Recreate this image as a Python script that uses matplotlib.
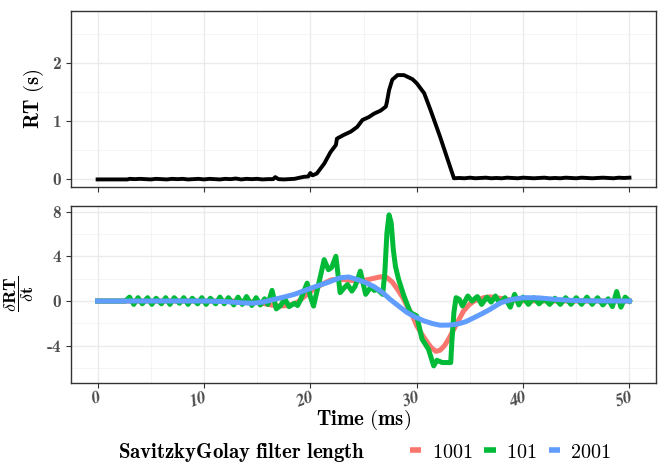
import matplotlib
matplotlib.use("Agg")
import matplotlib.pyplot as plt
from matplotlib.lines import Line2D

plt.rcParams["mathtext.fontset"] = "cm"
plt.rcParams["axes.unicode_minus"] = False

# reaction time trace
rt_time = [0, 1.0, 2.0, 2.8, 3.0, 3.5, 4.0, 4.5, 5.0, 5.5, 6.0, 6.5, 7.0, 7.5, 8.0, 8.5,
           9.0, 9.5, 10.0, 10.5, 11.0, 11.5, 12.0, 12.5, 13.0, 13.5, 14.0, 14.5, 15.0,
           15.5, 16.0, 16.5, 16.7, 17.0, 17.5, 18.0, 18.5, 19.0, 19.4, 19.8, 20.0, 20.2,
           20.6, 21.3, 21.9, 22.4, 22.5, 23.1, 23.8, 24.4, 24.9, 25.5, 26.0, 26.6, 27.1,
           27.2, 27.4, 27.7, 28.2, 28.8, 29.6, 30.0, 30.7, 31.3, 32.2, 33.5, 34.0, 34.5,
           35.0, 35.5, 36.0, 36.5, 37.0, 37.5, 38.0, 38.5, 39.0, 39.5, 40.0, 40.5, 41.0,
           41.5, 42.0, 42.5, 43.0, 43.5, 44.0, 44.5, 45.0, 45.5, 46.0, 46.5, 47.0, 47.5,
           48.0, 48.5, 49.0, 49.5, 50.0]
rt_value = [0.0, 0.0, 0.0, 0.0, 0.01, 0.005, 0.01, 0.005, 0.0, 0.01, 0.005, 0.0, 0.01,
            0.005, 0.01, 0.0, 0.005, 0.01, 0.0, 0.01, 0.005, 0.0, 0.01, 0.005, 0.015,
            0.0, 0.01, 0.005, 0.01, 0.0, 0.005, 0.005, 0.04, 0.005, 0.0, 0.005, 0.01,
            0.03, 0.045, 0.05, 0.11, 0.07, 0.10, 0.27, 0.47, 0.59, 0.70, 0.76, 0.82,
            0.90, 1.02, 1.07, 1.13, 1.18, 1.25, 1.33, 1.53, 1.71, 1.79, 1.79, 1.72, 1.65,
            1.48, 1.19, 0.73, 0.02, 0.025, 0.02, 0.03, 0.02, 0.025, 0.03, 0.02, 0.025,
            0.02, 0.03, 0.025, 0.02, 0.03, 0.025, 0.02, 0.025, 0.03, 0.02, 0.025, 0.02,
            0.03, 0.025, 0.02, 0.03, 0.025, 0.02, 0.025, 0.03, 0.025, 0.02, 0.03, 0.025,
            0.03]

# derivative, filter length 1001
sg1001_time = [0, 5, 10, 13, 15, 16, 17, 18, 18.8, 19.5, 20.3, 21.2, 22.0, 22.8, 23.8,
               24.7, 25.6, 26.6, 27.2, 27.7, 28.2, 28.7, 29.1, 29.6, 30.0, 30.5, 31.0,
               31.4, 31.8, 32.2, 32.6, 33.0, 33.5, 34.0, 34.4, 34.9, 35.4, 36.3, 36.9,
               37.8, 38.8, 40, 45, 50]
sg1001_value = [0, 0, 0, 0, -0.1, -0.3, -0.45, -0.4, -0.1, 0.45, 1.05, 1.55, 1.9, 1.95,
                1.85, 1.8, 1.95, 2.17, 2.1, 1.7, 1.04, 0.3, -0.44, -1.3, -2.2, -3.0, -3.7,
                -4.2, -4.5, -4.4, -4.0, -3.4, -2.5, -1.6, -0.9, -0.35, 0.0, 0.3, 0.37,
                0.25, 0.1, 0.02, 0, 0]

# derivative, filter length 101
sg101_time = [0, 2.6, 3.0, 3.4, 3.8, 4.2, 4.7, 5.1, 5.5, 6.0, 6.4, 6.8, 7.2, 7.7, 8.1,
              8.5, 8.9, 9.4, 9.8, 10.2, 10.6, 11.1, 11.5, 11.9, 12.3, 12.8, 13.2, 13.6,
              14.0, 14.5, 14.9, 15.3, 15.7, 16.0, 16.4, 16.8, 17.2, 17.6, 18.0, 18.5,
              18.8, 19.1, 19.4, 19.7, 20.0, 20.3, 20.8, 21.3, 21.7, 22.0, 22.4, 22.8,
              23.2, 23.5, 23.9, 24.2, 24.7, 25.2, 25.7, 26.0, 26.3, 26.8, 27.0, 27.2,
              27.4, 27.6, 27.8, 28.0, 28.3, 28.8, 29.4, 30.0, 30.5, 31.1, 31.6, 31.9,
              32.4, 33.2, 33.3, 33.5, 33.7, 34.0, 34.3, 34.8, 35.2, 35.7, 36.1, 36.6,
              37.0, 37.4, 37.8, 38.3, 38.8, 39.2, 39.6, 40.0, 40.5, 41.0, 41.5, 42.0,
              42.5, 43.0, 43.5, 44.0, 44.5, 45.0, 45.5, 46.0, 46.5, 47.0, 47.5, 48.0,
              48.4, 48.8, 49.2, 49.6, 50.0]
sg101_value = [0, 0, 0.35, -0.3, 0.3, -0.25, 0.3, -0.3, 0.25, -0.25, 0.3, -0.3, 0.3,
               -0.2, 0.3, -0.3, 0.25, -0.25, 0.3, -0.3, 0.25, -0.25, 0.35, -0.25, 0.3,
               -0.35, 0.35, -0.3, 0.4, -0.4, 0.3, -0.35, 0.2, -0.3, 0.95, -0.7, -0.4,
               0.2, -0.5, -0.2, -0.4, 0.15, 0.9, 1.6, 0.4, -0.45, 1.6, 3.7, 2.8, 3.0,
               4.0, 0.75, 1.2, 1.48, 0.89, 1.3, 2.67, 0.6, 1.28, 0.95, 1.04, 0.6, 2.5,
               6.1, 7.7, 7.0, 4.6, 3.1, 1.93, 0.45, -1.03, -1.33, -3.4, -4.3, -5.8, -5.3,
               -5.5, -5.5, -3.7, -1.0, 0.3, 0.15, -0.44, 0.45, 0.0, 0.4, -0.3, 0.35,
               -0.1, 0.45, -0.2, 0.3, -0.55, 0.6, -0.35, 0.35, -0.3, 0.3, -0.25, 0.2,
               -0.3, 0.25, -0.3, 0.3, -0.3, 0.3, -0.3, 0.35, -0.3, 0.3, -0.35, 0.2,
               -0.5, 0.85, -0.55, 0.35, 0.0]

# derivative, filter length 2001
sg2001_time = [0, 5, 10, 12, 13.5, 14.5, 15.5, 16.6, 17.5, 18.5, 19.5, 20.5, 21.6, 22.8,
               23.6, 24.4, 25.2, 26.0, 26.8, 27.5, 28.3, 29.1, 29.9, 30.7, 31.5, 32.2,
               33.0, 33.8, 34.6, 35.4, 36.2, 36.9, 37.9, 39.0, 40.1, 41.5, 43, 44.5, 46, 50]
sg2001_value = [0, 0, 0, -0.05, -0.15, -0.2, -0.1, 0.15, 0.35, 0.6, 0.95, 1.3, 1.65,
                2.08, 2.15, 1.93, 1.65, 1.28, 0.75, 0.15, -0.45, -1.03, -1.45, -1.78,
                -2.02, -2.16, -2.15, -2.07, -1.85, -1.48, -1.1, -0.74, -0.15, 0.15, 0.3,
                0.28, 0.15, 0.06, 0.02, 0]

x_ticks = [0, 10, 20, 30, 40, 50]
rt_ticks = [0, 1, 2]
deriv_ticks = [-4, 0, 4, 8]
legend_labels = ["1001", "101", "2001"]
colors = ["#F8766D", "#00BA38", "#619CFF"]

grey = "#4D4D4D"
frame = "#333333"

fig = plt.figure(figsize=(6.6, 4.66), dpi=100)
ax1 = fig.add_axes([0.1076, 0.5987, 0.8864, 0.3777])
ax2 = fig.add_axes([0.1076, 0.1788, 0.8864, 0.3792])

for ax in (ax1, ax2):
    ax.set_xlim(-2.5, 52.5)
    ax.set_xticks(x_ticks)
    ax.set_xticks([5, 15, 25, 35, 45], minor=True)
    ax.grid(which="major", color="#EBEBEB", lw=1.0)
    ax.grid(which="minor", color="#F2F2F2", lw=0.6)
    ax.set_axisbelow(True)
    for s in ax.spines.values():
        s.set_color(frame)
        s.set_linewidth(1.0)
    ax.tick_params(which="major", direction="out", length=3.5, width=0.8,
                   color=frame, labelcolor=grey)
    ax.tick_params(which="minor", length=0)

ax1.plot(rt_time, rt_value, color="black", lw=2.8, solid_joinstyle="round")
ax1.set_ylim(-0.13, 2.89)
ax1.set_yticks(rt_ticks)
ax1.set_yticks([0.5, 1.5, 2.5], minor=True)
ax1.set_yticklabels([str(v) for v in rt_ticks], family="cmb10", fontsize=12.5)
ax1.tick_params(axis="x", labelbottom=False)
ax1.set_ylabel(r"$\mathbf{RT\ (s)}$", fontsize=15)
ax1.yaxis.set_label_coords(-0.042, 0.5)

ax2.plot(sg1001_time, sg1001_value, color=colors[0], lw=3.6, solid_joinstyle="round")
ax2.plot(sg101_time, sg101_value, color=colors[1], lw=3.6, solid_joinstyle="round")
ax2.plot(sg2001_time, sg2001_value, color=colors[2], lw=3.6, solid_joinstyle="round")
ax2.set_ylim(-7.3, 8.5)
ax2.set_yticks(deriv_ticks)
ax2.set_yticks([-6, -2, 2, 6], minor=True)
ax2.set_yticklabels([str(v) for v in deriv_ticks], family="cmb10", fontsize=12.5)
ax2.set_xticklabels([str(v) for v in x_ticks], family="STIXGeneral", style="italic",
                    weight="bold", fontsize=12.5, rotation=20, ha="right",
                    rotation_mode="anchor")
ax2.tick_params(axis="x", pad=1)
ax2.set_ylabel(r"$\mathbf{\dfrac{\delta RT}{\delta t}}$", fontsize=13, rotation=90)
ax2.yaxis.set_label_coords(-0.06, 0.5)

fig.text(363.5 / 660, 1 - 420 / 466, r"$\mathbf{Time\ (ms)}$", fontsize=15,
         ha="center", va="center")

# legend below the panels
fig.text(118 / 660, 1 - 452 / 466, r"$\mathbf{SavitzkyGolay\ filter\ length}$",
         fontsize=15, ha="left", va="center")
handles = [Line2D([], [], color=c, lw=4, solid_capstyle="butt") for c in colors]
fig.legend(handles, [r"$\mathbf{%s}$" % l for l in legend_labels], loc="center left",
           bbox_to_anchor=(410 / 660, 1 - 452 / 466), ncol=3, frameon=False,
           fontsize=14.5, handlelength=0.57, handletextpad=0.5, columnspacing=0.6,
           borderpad=0, borderaxespad=0)

fig.savefig("out.png", dpi=100)
